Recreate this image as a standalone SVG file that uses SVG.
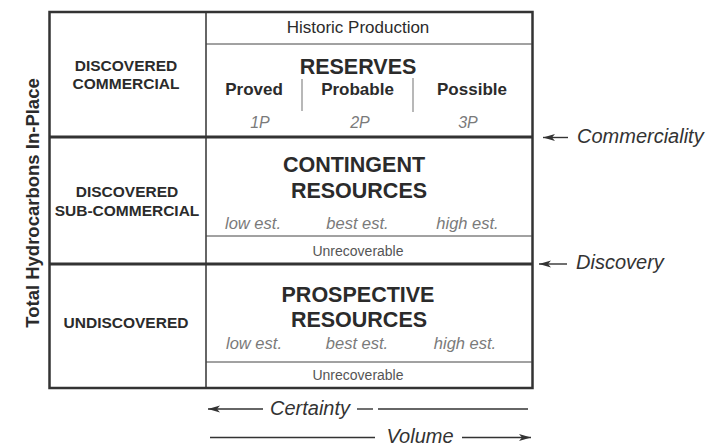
<svg xmlns="http://www.w3.org/2000/svg" width="722" height="448" viewBox="0 0 722 448">
<defs>
<marker id="ah" markerUnits="userSpaceOnUse" markerWidth="14" markerHeight="9" refX="12" refY="4.5" orient="auto"><path d="M0,1 L12,4.5 L0,8 L3,4.5 Z" fill="#333"/></marker>
</defs>
<style>
text{font-family:"Liberation Sans",Arial,Helvetica,sans-serif;fill:#2b2b2b}
.lbl{font-size:15.5px;font-weight:bold;text-anchor:middle}
.big{font-size:21.5px;font-weight:bold;text-anchor:middle}
.sub{font-size:17px;font-weight:bold;text-anchor:middle}
.est{font-size:16.5px;font-style:italic;fill:#7a7a7a;text-anchor:middle}
.pp{font-size:16px;font-style:italic;fill:#7a7a7a;text-anchor:middle}
.unr{font-size:14px;fill:#555;text-anchor:middle}
.hist{font-size:17px;text-anchor:middle}
.side{font-size:20px;font-style:italic;fill:#333}
.axis{font-size:18.5px;font-weight:bold;text-anchor:middle}
.thick{stroke:#333;stroke-width:3;fill:none}
.frame{stroke:#333;stroke-width:2.5;fill:none}
.col{stroke:#333;stroke-width:1.5;fill:none}
.thin{stroke:#444;stroke-width:1;fill:none}
.sep{stroke:#a0a0a0;stroke-width:1.5}
.conn{stroke:#333;stroke-width:1.4;fill:none}
</style>
<rect x="0" y="0" width="722" height="448" fill="#ffffff"/>

<g id="frame">
<rect class="frame" x="49.5" y="12" width="483" height="376"/>
<line class="col" x1="206" y1="12" x2="206" y2="388"/>
<line class="thick" x1="49.5" y1="137" x2="532.5" y2="137"/>
<line class="thick" x1="49.5" y1="264" x2="532.5" y2="264"/>
</g>

<g id="axis-label">
<text class="axis" transform="translate(39,203) rotate(-90)" x="0" y="0">Total Hydrocarbons In-Place</text>
</g>

<g id="discovered-commercial">
<text class="lbl" x="126" y="71">DISCOVERED</text>
<text class="lbl" x="126" y="89">COMMERCIAL</text>
</g>

<g id="discovered-subcommercial">
<text class="lbl" x="127" y="197">DISCOVERED</text>
<text class="lbl" x="127" y="216">SUB-COMMERCIAL</text>
</g>

<g id="undiscovered">
<text class="lbl" x="126" y="328">UNDISCOVERED</text>
</g>

<g id="historic-production">
<line class="thin" x1="206" y1="44" x2="532" y2="44"/>
<text class="hist" x="358" y="33">Historic Production</text>
</g>

<g id="reserves">
<text class="big" x="358" y="74">RESERVES</text>
<text class="sub" x="254" y="95">Proved</text>
<text class="sub" x="357.5" y="95">Probable</text>
<text class="sub" x="472" y="95">Possible</text>
<line class="sep" x1="302" y1="79" x2="302" y2="111"/>
<line class="sep" x1="413" y1="78" x2="413" y2="112"/>
<text class="pp" x="260" y="128">1P</text>
<text class="pp" x="360" y="128">2P</text>
<text class="pp" x="468" y="128">3P</text>
</g>

<g id="contingent-resources">
<text class="big" x="354" y="172">CONTINGENT</text>
<text class="big" x="359" y="198">RESOURCES</text>
<text class="est" x="253" y="229">low est.</text>
<text class="est" x="357.5" y="229">best est.</text>
<text class="est" x="467.5" y="229">high est.</text>
</g>

<g id="contingent-unrecoverable">
<line class="thin" x1="206" y1="236" x2="532" y2="236"/>
<text class="unr" x="358" y="255.5">Unrecoverable</text>
</g>

<g id="prospective-resources">
<text class="big" x="358" y="302">PROSPECTIVE</text>
<text class="big" x="359" y="327">RESOURCES</text>
<text class="est" x="254" y="349">low est.</text>
<text class="est" x="357" y="349">best est.</text>
<text class="est" x="465" y="349">high est.</text>
</g>

<g id="prospective-unrecoverable">
<line class="thin" x1="206" y1="362" x2="532" y2="362"/>
<text class="unr" x="358" y="380">Unrecoverable</text>
</g>

<g id="commerciality">
<text class="side" x="577" y="143">Commerciality</text>
</g>
<g id="discovery">
<text class="side" x="576" y="269">Discovery</text>
</g>
<g id="certainty">
<text class="side" x="270" y="415">Certainty</text>
</g>
<g id="volume">
<text class="side" x="386.5" y="443">Volume</text>
</g>

<g id="connectors">
<path class="conn" d="M568,137.5 L543,137.5" marker-end="url(#ah)"/>
<path class="conn" d="M567,264 L539,264" marker-end="url(#ah)"/>
<path class="conn" d="M263,409 L208,409" marker-end="url(#ah)"/>
<path class="conn" d="M357,409 L373,409"/>
<path class="conn" d="M378,409 L528,409"/>
<path class="conn" d="M210,437.5 L375,437.5"/>
<path class="conn" d="M462,437.5 L531,437.5" marker-end="url(#ah)"/>
</g>
</svg>
